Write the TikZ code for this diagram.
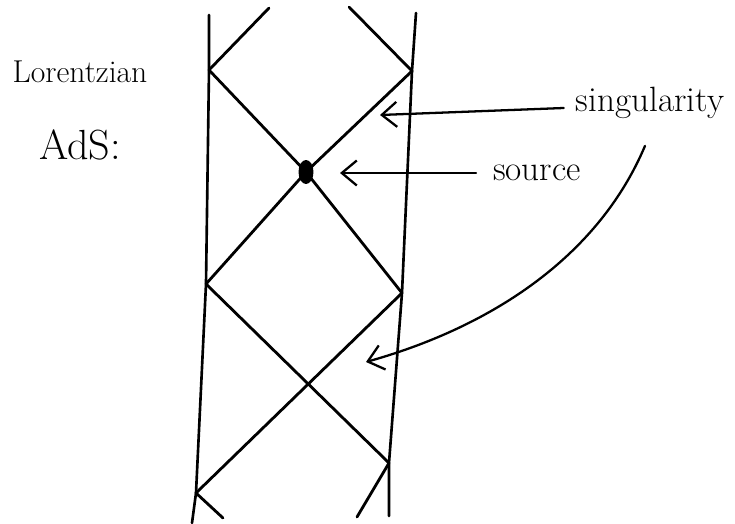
\documentclass[tikz,border=0pt]{standalone}
\usepackage{tikz}
\usetikzlibrary{positioning,arrows.meta,calc}

\begin{document}
\begin{tikzpicture}[
    x=0.02cm, y=-0.02cm,
    >={Straight Barb[length=3mm,width=5mm]},
    wall/.style={line width=1.5pt, line join=round, line cap=round},
    ray/.style={line width=1.6pt, line join=round, line cap=round},
    pointer/.style={->, line width=1.3pt, line cap=round},
    tag/.style={inner sep=1pt}
]
\useasboundingbox (0,0) rectangle (735,524);

\node[tag, font=\fontsize{18}{21}\selectfont] (lor) at (80,72) {Lorentzian};
\node[tag, font=\fontsize{24}{28}\selectfont, below=0.85cm of lor] (ads) {AdS:};
\node[tag, font=\fontsize{20}{24}\selectfont] (sing) at (650,103) {singularity};
\node[tag, font=\fontsize{20}{24}\selectfont] (srclab) at (537,173) {source};

\coordinate (Ltop) at (209,15);
\coordinate (L1) at (209,70);
\coordinate (L2) at (206,284);
\coordinate (L3) at (196,493);
\coordinate (Lbot) at (192,523);
\coordinate (Rtop) at (416,13);
\coordinate (R1) at (412,71);
\coordinate (R2) at (402,293);
\coordinate (R3) at (389,463);
\coordinate (Rbot) at (389,516);
\coordinate (T1) at (269,8);
\coordinate (T2) at (349,7);
\coordinate (B1) at (223,518);
\coordinate (B2) at (357,517);
\coordinate (src) at (306,172);
\coordinate (singTip) at (380,115);
\coordinate (srcTip) at (340,173);
\coordinate (curveTip) at (366,362);

\draw[wall] (Ltop) -- (L1) -- (L2) -- (L3) -- (Lbot);
\draw[wall] (Rtop) -- (R1) -- (R2) -- (R3) -- (Rbot);
\draw[ray] (T1) -- (L1) -- (src) -- (R2) -- (L3) -- (B1);
\draw[ray] (T2) -- (R1) -- (src) -- (L2) -- (R3) -- (B2);
\fill (src) ellipse [x radius=0.15cm, y radius=0.24cm];

\draw[pointer] ([xshift=-0.2cm,yshift=-0.1cm]sing.west) -- (singTip);
\draw[pointer] ([xshift=-0.3cm]srclab.west) -- (srcTip);
\draw[pointer] ([xshift=-0.1cm,yshift=-0.5cm]sing.south) .. controls (599,255) and (494,326) .. (curveTip);
\end{tikzpicture}
\end{document}
